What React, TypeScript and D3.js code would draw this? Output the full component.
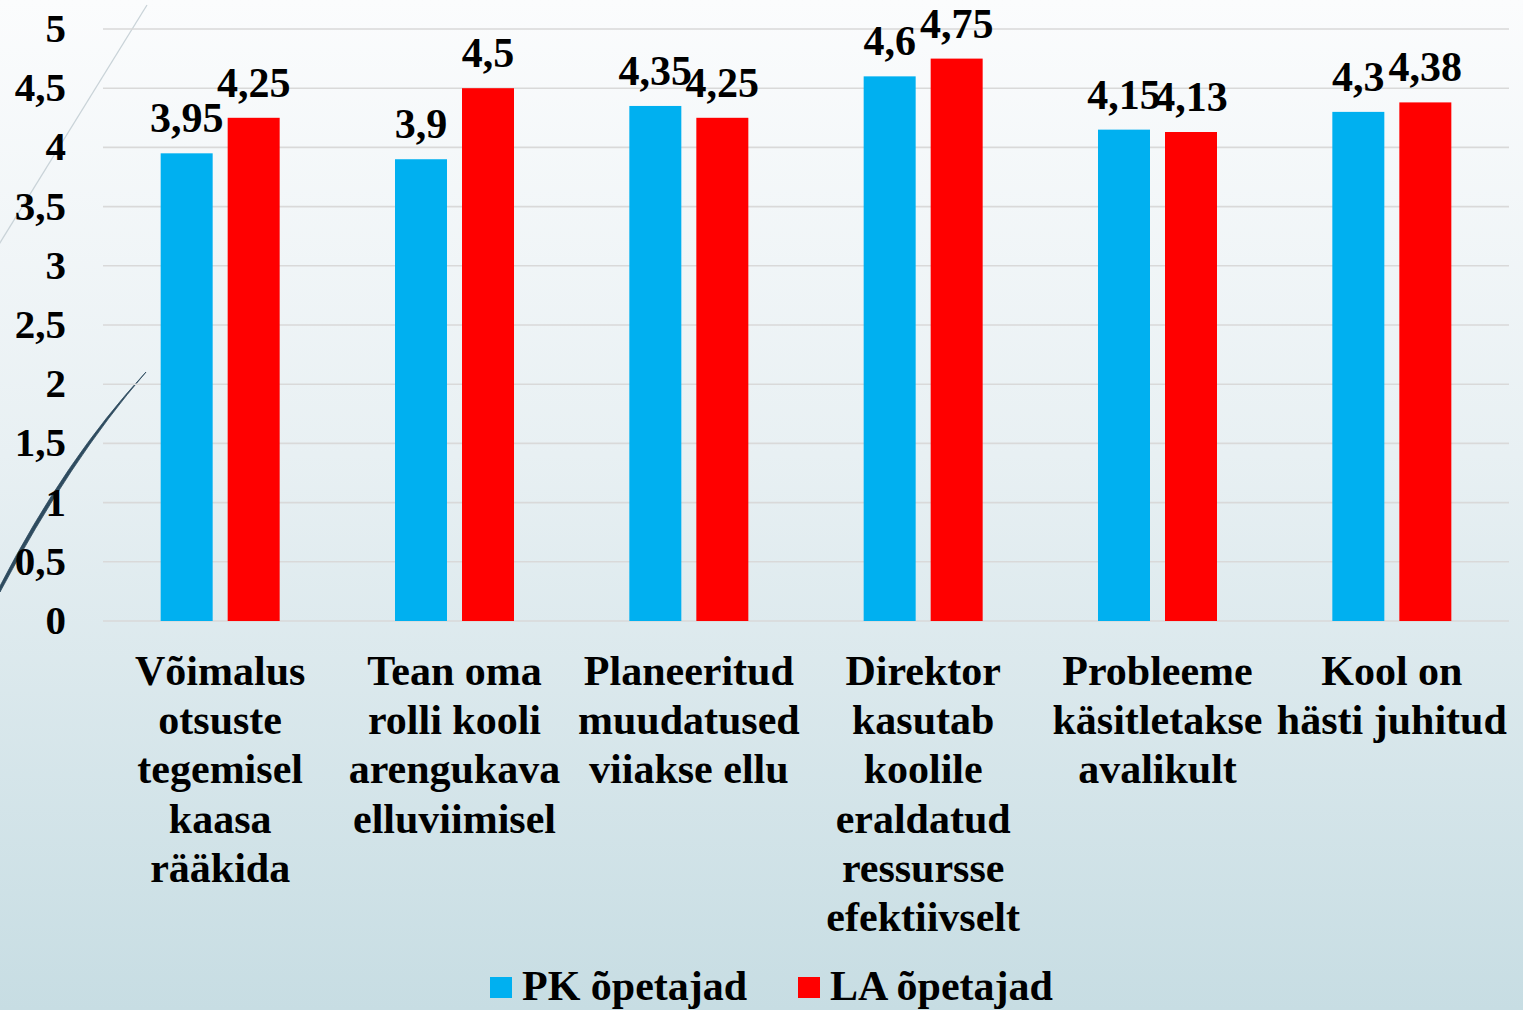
import React from "react";
import * as d3 from "d3";

const categories: string[][] = [
  ["Võimalus", "otsuste", "tegemisel", "kaasa", "rääkida"],
  ["Tean oma", "rolli kooli", "arengukava", "elluviimisel"],
  ["Planeeritud", "muudatused", "viiakse ellu"],
  ["Direktor", "kasutab", "koolile", "eraldatud", "ressursse", "efektiivselt"],
  ["Probleeme", "käsitletakse", "avalikult"],
  ["Kool on", "hästi juhitud"],
];
const seriesNames = ["PK õpetajad", "LA õpetajad"];
const pkValues = [3.95, 3.9, 4.35, 4.6, 4.15, 4.3];
const laValues = [4.25, 4.5, 4.25, 4.75, 4.13, 4.38];
const yTicks = [0, 0.5, 1, 1.5, 2, 2.5, 3, 3.5, 4, 4.5, 5];
const seriesColors = ["#00b0f0", "#ff0000"];

const W = 1523;
const H = 1010;
const FONT = "'Liberation Serif', 'Times New Roman', serif";

const fmt = (v: number) => String(v).replace(".", ",");

export default function App() {
  const series = [pkValues, laValues];
  const x0 = d3
    .scaleBand<number>()
    .domain(categories.map((_, i) => i))
    .range([103, 1509]);
  const groupW = 119;
  const x1 = d3.scaleBand<number>().domain([0, 1]).range([0, groupW]).paddingInner(0.224);
  const y = d3.scaleLinear().domain([0, 5]).range([621, 29]);

  const darkLine = "M146,372 Q70,460 0,592 L0,586 Q66,458 146,372 Z";

  return (
    <svg
      width={W}
      height={H}
      style={{ position: "absolute", left: 0, top: 0, display: "block" }}
      fontFamily={FONT}
      fontWeight="bold"
    >
      <defs>
        <linearGradient id="bg" x1="0" y1="0" x2="0" y2="1">
          <stop offset="0" stopColor="#fbfcfd" />
          <stop offset="0.45" stopColor="#e8f0f3" />
          <stop offset="1" stopColor="#c7dde3" />
        </linearGradient>
      </defs>
      <rect x={0} y={0} width={W} height={H} fill="url(#bg)" />
      {/* decorative lines */}
      <line x1={147} y1={5} x2={-2} y2={246} stroke="#c9d3d8" strokeWidth={1.3} />
      <path d={darkLine} fill="#2e4b5f" stroke="#2e4b5f" strokeWidth={0.8} />

      {/* gridlines */}
      {yTicks.map((t) => (
        <line key={t} x1={103} x2={1509} y1={y(t)} y2={y(t)} stroke="#d9d9d9" strokeWidth={1.6} />
      ))}
      {/* y tick labels */}
      {yTicks.map((t) => (
        <text key={"l" + t} x={66} y={y(t) + 13} textAnchor="end" fontSize={41} fill="#000">
          {fmt(t)}
        </text>
      ))}

      {/* bars */}
      {categories.map((_, i) => {
        const cx = (x0(i) as number) + x0.bandwidth() / 2;
        const gx = cx - groupW / 2;
        return series.map((vals, s) => {
          const bx = gx + (x1(s) as number);
          return (
            <rect
              key={i + "-" + s}
              x={bx}
              y={y(vals[i])}
              width={x1.bandwidth()}
              height={y(0) - y(vals[i])}
              fill={seriesColors[s]}
            />
          );
        });
      })}
      {/* value labels */}
      {categories.map((_, i) => {
        const cx = (x0(i) as number) + x0.bandwidth() / 2;
        const gx = cx - groupW / 2;
        return series.map((vals, s) => {
          const bx = gx + (x1(s) as number) + x1.bandwidth() / 2;
          return (
            <text
              key={"v" + i + "-" + s}
              x={bx}
              y={y(vals[i]) - 21}
              textAnchor="middle"
              fontSize={42}
              fill="#000"
            >
              {fmt(vals[i])}
            </text>
          );
        });
      })}

      {/* category labels */}
      {categories.map((lines, i) => {
        const cx = (x0(i) as number) + x0.bandwidth() / 2;
        return (
          <text key={"c" + i} x={cx} y={685} textAnchor="middle" fontSize={42} fill="#000">
            {lines.map((ln, k) => (
              <tspan key={k} x={cx} y={685 + k * 49.2}>
                {ln}
              </tspan>
            ))}
          </text>
        );
      })}

      {/* legend */}
      {seriesNames.map((n, s) => {
        const lx = [490, 798][s];
        return (
          <g key={"lg" + s}>
            <rect x={lx} y={977} width={22} height={21} fill={seriesColors[s]} />
            <text x={lx + 32} y={1000} fontSize={42} fill="#000">
              {n}
            </text>
          </g>
        );
      })}
    </svg>
  );
}
